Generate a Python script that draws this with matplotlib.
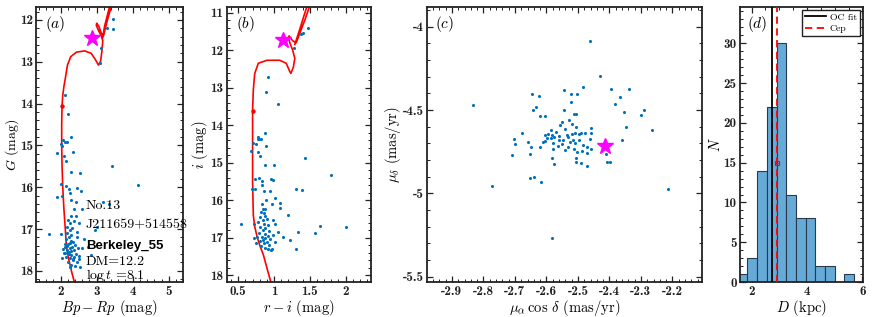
import matplotlib
matplotlib.use('Agg')
import matplotlib.pyplot as plt
from matplotlib.ticker import AutoMinorLocator, MultipleLocator, FormatStrFormatter
from matplotlib.lines import Line2D

plt.rcParams['axes.unicode_minus'] = False
plt.rcParams['mathtext.fontset'] = 'cm'
plt.rcParams['font.family'] = ['cmr10', 'DejaVu Serif']
plt.rcParams['axes.formatter.use_mathtext'] = False

# ---------------- data ----------------
# panel (a): Gaia CMD
a_bprp = [3.45, 3.45, 3.28, 3.13, 3.10, 2.12, 2.21, 2.28, 2.07, 2.12, 2.17, 2.01, 2.05, 1.91, 2.34,
          2.10, 2.14, 3.43, 2.29, 2.53, 4.14, 2.01, 2.15, 2.46, 2.56, 2.22, 2.25, 1.91, 2.03, 2.30,
          2.44, 3.19, 3.33, 2.37, 2.58,
          2.30, 2.42, 2.21, 2.27, 2.38, 2.51, 2.18, 2.32, 2.26, 2.46, 2.00, 1.69, 2.30, 2.22, 2.45,
          2.15, 2.28, 2.35, 2.20, 2.40, 2.12, 2.25, 2.32, 2.48, 2.08, 2.18, 2.28, 2.38, 2.10, 2.22,
          2.30, 2.42, 2.52, 2.15, 2.25, 2.35, 2.05, 2.45, 2.20, 2.30, 2.40, 2.55, 2.13, 2.60, 2.75,
          2.95, 3.02, 2.85, 2.65, 2.17, 2.24, 2.36, 2.19, 2.27, 2.33, 2.11, 2.50, 2.26]
a_G = [11.98, 12.22, 12.20, 12.68, 13.02, 13.79, 14.26, 14.80, 14.87, 14.91, 14.93, 14.97, 15.01, 15.19, 15.15,
       15.25, 15.37, 15.49, 15.63, 15.65, 15.94, 15.92, 15.96, 16.03, 16.08, 16.05, 16.15, 16.23, 16.20, 16.31,
       16.35, 16.35, 16.40, 16.52, 16.52,
       16.70, 16.68, 16.78, 16.86, 16.81, 16.86, 16.94, 16.97, 17.02, 17.06, 17.12, 17.12, 17.15, 17.18, 17.20,
       17.25, 17.28, 17.30, 17.35, 17.38, 17.42, 17.45, 17.42, 17.45, 17.48, 17.50, 17.52, 17.50, 17.58, 17.60,
       17.62, 17.60, 17.65, 17.68, 17.70, 17.72, 17.70, 17.78, 17.80, 17.85, 17.88, 17.90, 17.58, 17.45, 17.43,
       17.02, 16.95, 17.62, 17.25, 17.40, 17.55, 17.66, 17.10, 17.33, 17.75, 17.36, 17.72, 17.92]

iso_a_bprp = [2.39, 2.30, 2.22, 2.16, 2.13, 2.09, 2.06, 2.04, 2.03, 2.03, 2.04, 2.06, 2.09, 2.13, 2.19,
              2.28, 2.44, 2.67, 2.85, 2.96, 3.05, 3.11, 3.15, 3.17, 3.13, 3.05, 2.99, 3.00, 3.06, 3.13,
              3.19, 3.24, 3.30, 3.40, 3.50, 3.45, 3.33, 3.22, 3.17]
iso_a_G = [18.30, 18.00, 17.70, 17.40, 17.00, 16.50, 16.00, 15.50, 15.00, 14.50, 14.05, 13.80, 13.60, 13.40, 13.08,
           12.88, 12.77, 12.74, 12.80, 12.94, 13.08, 12.99, 12.72, 12.50, 12.38, 12.25, 12.13, 12.08, 12.15, 12.32,
           12.38, 12.20, 12.00, 11.70, 11.40, 11.40, 11.78, 12.15, 12.42]

# panel (b): r-i vs i
b_ri = [1.47, 1.41, 1.375, 1.28, 0.92, 0.89, 1.05, 0.87, 0.78, 0.77, 0.79, 0.82, 0.70, 0.75, 0.89,
        0.68, 0.78, 0.80, 1.43, 0.87, 1.00, 1.80, 0.73, 0.79, 0.96, 0.99, 0.835, 0.835, 0.69, 0.73,
        0.86, 0.95, 1.30, 1.39, 1.02, 0.89, 1.08, 1.09, 0.97, 0.83, 0.85, 0.87, 1.20, 0.99, 1.01,
        0.72, 0.54, 1.64, 2.00, 1.33, 1.57, 1.06, 1.13, 1.22, 1.01, 1.30, 0.97, 0.75,
        0.82, 0.86, 0.80, 0.88, 0.84, 0.90, 0.78, 0.86, 0.92, 0.81, 0.88, 0.84, 0.93, 0.79, 0.87,
        0.91, 0.83, 0.76, 0.88, 0.95, 0.85, 0.80, 0.90, 0.86, 0.93, 0.82, 0.88, 0.91, 0.96, 0.72, 0.98]
b_i = [11.42, 11.55, 11.58, 11.93, 12.72, 13.12, 13.43, 14.22, 14.31, 14.37, 14.37, 14.37, 14.47, 14.49, 14.55,
       14.69, 14.71, 14.81, 14.86, 15.07, 15.07, 15.33, 15.42, 15.41, 15.44, 15.45, 15.49, 15.60, 15.71, 15.69,
       15.75, 15.75, 15.71, 15.73, 15.93, 15.98, 16.08, 16.20, 16.11, 16.11, 16.22, 16.24, 16.39, 16.53, 16.64,
       16.64, 16.63, 16.69, 16.71, 16.84, 16.88, 16.84, 16.98, 17.05, 17.11, 17.29, 17.29, 17.13,
       16.30, 16.35, 16.45, 16.42, 16.52, 16.50, 16.58, 16.62, 16.66, 16.70, 16.75, 16.80, 16.82, 16.88, 16.90,
       16.95, 16.97, 16.98, 17.00, 17.02, 17.05, 17.08, 17.10, 17.15, 17.18, 17.22, 17.27, 17.30, 17.33, 17.00, 16.92]

iso_b_ri = [0.955, 0.90, 0.85, 0.80, 0.76, 0.73, 0.71, 0.70, 0.70, 0.70, 0.71, 0.73, 0.78, 0.90, 1.08,
            1.17, 1.22, 1.235, 1.27, 1.29, 1.26, 1.22, 1.20, 1.21, 1.26, 1.31, 1.35, 1.43, 1.52, 1.62,
            1.56, 1.44, 1.35, 1.29]
iso_b_i = [18.18, 17.80, 17.45, 17.20, 16.95, 16.70, 16.40, 15.50, 14.50, 13.60, 13.06, 12.62, 12.35, 12.27, 12.27,
           12.35, 12.57, 12.62, 12.45, 12.22, 12.00, 11.80, 11.66, 11.62, 11.75, 11.80, 11.60, 11.20, 10.70, 10.30,
           10.30, 10.95, 11.50, 11.85]

# panel (c): proper motions
c_pmra = [-2.834, -2.774, -2.461, -2.431, -2.396, -2.337, -2.367, -2.382, -2.291, -2.301, -2.353, -2.348,
          -2.264, -2.361, -2.412, -2.399, -2.408, -2.213, -2.583, -2.544, -2.523, -2.503, -2.485, -2.523,
          -2.646, -2.623, -2.644, -2.634, -2.619, -2.603, -2.543, -2.514, -2.507, -2.529, -2.552, -2.520,
          -2.507, -2.541, -2.557, -2.568, -2.586, -2.595, -2.605, -2.582, -2.575, -2.560, -2.598, -2.587,
          -2.606, -2.578, -2.563, -2.546, -2.530, -2.520, -2.508, -2.498, -2.489, -2.477, -2.460, -2.457,
          -2.461, -2.515, -2.526, -2.509, -2.485, -2.472, -2.458, -2.470, -2.487, -2.503, -2.514, -2.530,
          -2.550, -2.507, -2.505, -2.491, -2.471, -2.576, -2.578, -2.541, -2.612, -2.659, -2.650, -2.677,
          -2.702, -2.700, -2.709, -2.653, -2.651, -2.640, -2.616, -2.583, -2.621, -2.561, -2.535, -2.496]
c_pmdec = [-4.472, -4.956, -4.086, -4.294, -4.376, -4.376, -4.420, -4.464, -4.500, -4.532, -4.512, -4.604,
           -4.620, -4.680, -4.764, -4.814, -4.814, -4.972, -5.270, -4.380, -4.406, -4.406, -4.360, -4.452,
           -4.406, -4.416, -4.502, -4.484, -4.534, -4.534, -4.500, -4.524, -4.524, -4.560, -4.570, -4.586,
           -4.600, -4.614, -4.590, -4.630, -4.620, -4.644, -4.648, -4.650, -4.660, -4.656, -4.666, -4.670,
           -4.686, -4.700, -4.714, -4.680, -4.660, -4.644, -4.640, -4.642, -4.636, -4.640, -4.610, -4.636,
           -4.674, -4.680, -4.690, -4.696, -4.712, -4.724, -4.732, -4.760, -4.744, -4.750, -4.736, -4.720,
           -4.706, -4.790, -4.814, -4.816, -4.834, -4.826, -4.736, -4.740, -4.690, -4.694, -4.724, -4.640,
           -4.676, -4.704, -4.772, -4.764, -4.906, -4.904, -4.932, -4.790, -4.720, -4.680, -4.650, -4.680]

# Cepheid
cep_bprp, cep_G = 2.88, 12.44
cep_ri, cep_i = 1.13, 11.74
cep_pmra, cep_pmdec = -2.414, -4.716
turn_a = (2.03, 14.05)
turn_b = (0.70, 13.61)

# panel (d): distance histogram
d_edges = [1.50, 1.85, 2.20, 2.55, 2.90, 3.25, 3.60, 3.95, 4.30, 4.65, 5.00, 5.35, 5.70]
d_counts = [1, 3, 14, 22, 30, 11, 8, 8, 2, 2, 0, 1]
d_ocfit = 2.75
d_cep = 2.92
d_cep_err = 0.03

# ---------------- figure ----------------
fig = plt.figure(figsize=(8.72, 3.17), dpi=100)
bot, h = 0.110, 0.868
axa = fig.add_axes([0.041, bot, 0.169, h])
axb = fig.add_axes([0.2603, bot, 0.165, h])
axc = fig.add_axes([0.4897, bot, 0.3154, h])
axd = fig.add_axes([0.8486, bot, 0.141, h])

blue = '#0072BD'
mag = '#FF00FF'
LFS = 10.5

def style(ax, nx, ny):
    for s in ax.spines.values():
        s.set_linewidth(1.3)
        s.set_color('#222222')
    ax.xaxis.set_minor_locator(AutoMinorLocator(nx))
    ax.yaxis.set_minor_locator(AutoMinorLocator(ny))
    ax.tick_params(which='both', direction='in', top=True, right=True,
                   labelsize=9.5, labelfontfamily='cmb10', colors='#222222')
    ax.tick_params(which='major', length=4, width=0.9, pad=2.5)
    ax.tick_params(which='minor', length=2, width=0.7)

# (a)
axa.plot(iso_a_bprp, iso_a_G, color='red', lw=1.2, zorder=2)
axa.plot(*turn_a, 'o', color='red', ms=2.2, zorder=2)
axa.scatter(a_bprp, a_G, s=5, color=blue, zorder=3, linewidths=0)
axa.plot(cep_bprp, cep_G, marker='*', color=mag, ms=12, ls='none', zorder=4)
axa.set_xlim(1.31, 5.40)
axa.set_ylim(18.27, 11.69)
axa.xaxis.set_major_locator(MultipleLocator(1))
axa.yaxis.set_major_locator(MultipleLocator(1))
style(axa, 5, 5)
axa.tick_params(axis='y', which='major', pad=2)
axa.set_xlabel(r'$Bp-Rp$ (mag)', fontsize=LFS, labelpad=0)
axa.set_ylabel(r'$G$ (mag)', fontsize=10, labelpad=-0.5)
axa.text(0.06, 0.975, r'$(a)$', transform=axa.transAxes, va='top', ha='left', fontsize=11)
tx = 2.70
TFS = 10
axa.text(tx, 16.46, 'No.13', fontsize=TFS, va='center', ha='left', clip_on=False, zorder=5)
axa.text(tx, 16.92, 'J211659+514558', fontsize=TFS, va='center', ha='left', clip_on=False, zorder=5)
axa.text(tx, 17.41, 'Berkeley_55', fontsize=9.5, fontweight='bold', family='Liberation Sans',
         va='center', ha='left', clip_on=False, zorder=5)
axa.text(tx, 17.78, 'DM=12.2', fontsize=TFS, va='center', ha='left', clip_on=False, zorder=5)
axa.text(tx, 18.10, r'log$\,t$ =8.1', fontsize=TFS, va='center', ha='left', clip_on=False, zorder=5)

# (b)
axb.plot(iso_b_ri, iso_b_i, color='red', lw=1.2, zorder=2)
axb.plot(*turn_b, 'o', color='red', ms=2.2, zorder=2)
axb.scatter(b_ri, b_i, s=5, color=blue, zorder=3, linewidths=0)
axb.plot(cep_ri, cep_i, marker='*', color=mag, ms=12, ls='none', zorder=4)
axb.set_xlim(0.342, 2.353)
axb.set_ylim(18.18, 10.85)
axb.xaxis.set_major_locator(MultipleLocator(0.5))
axb.yaxis.set_major_locator(MultipleLocator(1))
axb.xaxis.set_major_formatter(FormatStrFormatter('%g'))
style(axb, 5, 5)
axb.set_xlabel(r'$r-i$ (mag)', fontsize=LFS, labelpad=0)
axb.set_ylabel(r'$i$ (mag)', fontsize=LFS, labelpad=0)
axb.text(0.06, 0.975, r'$(b)$', transform=axb.transAxes, va='top', ha='left', fontsize=11)

# (c)
axc.scatter(c_pmra, c_pmdec, s=5, color=blue, zorder=3, linewidths=0)
axc.plot(cep_pmra, cep_pmdec, marker='*', color=mag, ms=12, ls='none', zorder=4)
axc.set_xlim(-2.979, -2.106)
axc.set_ylim(-5.532, -3.882)
axc.xaxis.set_major_locator(MultipleLocator(0.1))
axc.yaxis.set_major_locator(MultipleLocator(0.5))
axc.xaxis.set_major_formatter(FormatStrFormatter('%g'))
axc.yaxis.set_major_formatter(FormatStrFormatter('%g'))
style(axc, 5, 5)
axc.set_xlabel(r'$\mu_\alpha\,\cos\,\delta$ (mas/yr)', fontsize=LFS, labelpad=0)
axc.set_ylabel(r'$\mu_\delta$ (mas/yr)', fontsize=LFS, labelpad=0)
axc.text(0.03, 0.975, r'$(c)$', transform=axc.transAxes, va='top', ha='left', fontsize=11)

# (d)
widths = [d_edges[k + 1] - d_edges[k] for k in range(len(d_counts))]
axd.bar(d_edges[:-1], d_counts, width=widths, align='edge', color='#66AAD7',
        edgecolor='#2a3a4a', linewidth=0.8, zorder=2)
axd.axvline(d_ocfit, color='black', lw=1.3, zorder=3)
axd.axvline(d_cep, color='red', lw=1.3, ls=(0, (4, 2.5)), zorder=3)
axd.errorbar(d_cep, 15, xerr=d_cep_err, fmt='s', color='red', ms=3, mfc='none', mew=0.8,
             elinewidth=0.8, zorder=4)
axd.set_xlim(1.58, 6.02)
axd.set_ylim(0, 34.55)
axd.xaxis.set_major_locator(MultipleLocator(2))
axd.yaxis.set_major_locator(MultipleLocator(5))
style(axd, 4, 5)
axd.set_xlabel(r'$D$ (kpc)', fontsize=LFS, labelpad=0)
axd.set_ylabel(r'$N$', fontsize=LFS, labelpad=0)
axd.text(0.06, 0.975, r'$(d)$', transform=axd.transAxes, va='top', ha='left', fontsize=11)
handles = [Line2D([], [], color='black', lw=1.3),
           Line2D([], [], color='red', lw=1.3, ls=(0, (4, 2.5)))]
leg = axd.legend(handles, ['OC fit', 'Cep'], loc='upper right', fontsize=7,
                 fancybox=False, framealpha=1, edgecolor='#222222',
                 handlelength=2.2, handletextpad=0.4, borderpad=0.3, labelspacing=0.3,
                 borderaxespad=0.3)
leg.get_frame().set_linewidth(1.0)

fig.savefig('out.png', dpi=100)
